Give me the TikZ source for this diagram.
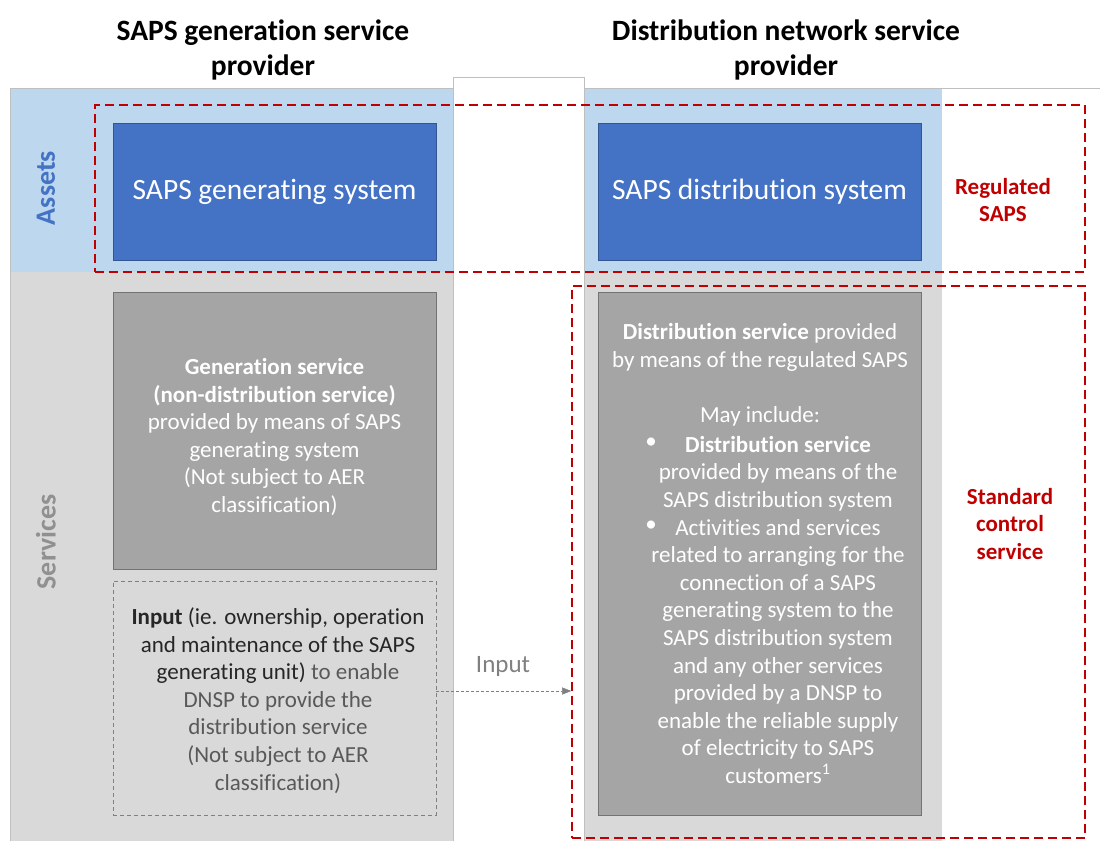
\documentclass[tikz,border=0pt]{standalone}
\usepackage{fontspec}
\setmainfont{Carlito}[Ligatures={NoCommon}]
\usetikzlibrary{arrows.meta}

\definecolor{assetblue}{HTML}{BDD7EE}
\definecolor{servgrey}{HTML}{D9D9D9}
\definecolor{boxblue}{HTML}{4472C4}
\definecolor{boxgrey}{HTML}{A5A5A5}
\definecolor{regred}{HTML}{C00000}
\definecolor{darktext}{HTML}{262626}
\definecolor{softtext}{HTML}{595959}
\definecolor{labelgrey}{HTML}{909090}

\tikzset{
  bodyfont/.style={font=\fontsize{23}{27.6}\selectfont},
  bluebox/.style={draw=boxblue!75!black, fill=boxblue, text=white, minimum width=323pt, minimum height=137pt, inner sep=0pt, font=\fontsize{29.5}{34}\selectfont},
  greybox/.style={draw=boxgrey!70!black, fill=boxgrey, minimum width=323pt, inner sep=0pt},
  inputbox/.style={draw=gray, dashed, dash pattern=on 4pt off 3pt, minimum width=323pt, minimum height=234pt, inner sep=0pt},
  regbox/.style={draw=regred, dash pattern=on 9pt off 5pt, line width=1.6pt, minimum width=990pt, inner sep=0pt},
  rowlabel/.style={rotate=90, font=\fontsize{28}{32}\selectfont\bfseries},
  reglabel/.style={text=regred, align=center, font=\fontsize{23}{27.5}\selectfont\bfseries},
  headlabel/.style={align=center, font=\fontsize{29.5}{35}\selectfont\bfseries}
}

\begin{document}
\begin{tikzpicture}[x=1pt,y=-1pt]
\useasboundingbox (0,0) rectangle (1100,841);

\fill[assetblue] (10,88) rectangle (453,272);
\fill[assetblue] (584,88) rectangle (942,272);
\fill[servgrey] (10,272) rectangle (453,841);
\fill[servgrey] (584,272) rectangle (942,841);
\draw[gray!50] (10,841) -- (10,88) -- (1100,88);
\draw[gray!50, fill=white] (453,841) -- (453,77) -- (584,77) -- (584,841);

\node[headlabel] (genhead) at (263,50) {SAPS generation service\\provider};
\node[headlabel] (disthead) at (786,50) {Distribution network service\\provider};

\node[rowlabel, text=boxblue] (assets) at (46,188) {Assets};
\node[rowlabel, text=labelgrey] (services) at (46,542) {Services};

\node[bluebox] (gensys) at (274.5,191.5) {\raisebox{-2pt}{SAPS generating system}};
\node[bluebox] (distsys) at (759.5,191.5) {\raisebox{-2pt}{SAPS distribution system}};

\node[greybox, minimum height=277pt] (gensrv) at (274.5,430.5) {};
\node[bodyfont, text=white, align=center] (gentext) at (274.5,437) {\textbf{Generation service}\\\textbf{(non-distribution service)}\\provided by means of SAPS\\generating system\\(Not subject to AER\\classification)};

\node[inputbox] (input) at (274.5,698) {};
\node[bodyfont, align=center] (inputtext) at (278,700.5) {\textcolor{darktext}{\textbf{Input} (ie. ownership, operation}\\\textcolor{darktext}{and maintenance of the SAPS}\\\textcolor{darktext}{generating unit)} \textcolor{softtext}{to enable}\\\textcolor{softtext}{DNSP to provide the}\\\textcolor{softtext}{distribution service}\\\textcolor{softtext}{(Not subject to AER}\\\textcolor{softtext}{classification)}};

\node[greybox, minimum height=523pt] (distsrv) at (759.5,553.5) {};
\node[bodyfont, text=white, align=center] (disttext) at (760,375) {\textbf{Distribution service} provided\\by means of the regulated SAPS\\[27.6pt]May include:};
\node[bodyfont, text=white] (bulletA) at (651,443) {\textbullet};
\node[bodyfont, text=white] (bulletB) at (651,526) {\textbullet};
\node[bodyfont, text=white, align=center] (listtext) at (778,610) {\textbf{Distribution service}\\provided by means of the\\SAPS distribution system\\Activities and services\\related to arranging for the\\connection of a SAPS\\generating system to the\\SAPS distribution system\\and any other services\\provided by a DNSP to\\enable the reliable supply\\of electricity to SAPS\\customers\textsuperscript{1}};

\node[regbox, minimum height=167pt] (regsaps) at (590,188.5) {};
\node[regbox, minimum width=513pt, minimum height=552pt] (stdctrl) at (828.5,562) {};
\node[reglabel] (regtext) at (1003,200) {Regulated\\SAPS};
\node[reglabel] (stdtext) at (1010,524) {Standard\\control\\service};

\coordinate (inputend) at (stdctrl.west |- 0,691);
\draw[gray, dashed, dash pattern=on 3pt off 2pt, -{Triangle[length=9pt, width=7pt]}] ([yshift=7pt]input.east) -- (inputend);
\node[bodyfont, text=gray, font=\fontsize{25}{30}\selectfont] (inputlabel) at (503,666) {Input};

\end{tikzpicture}
\end{document}
